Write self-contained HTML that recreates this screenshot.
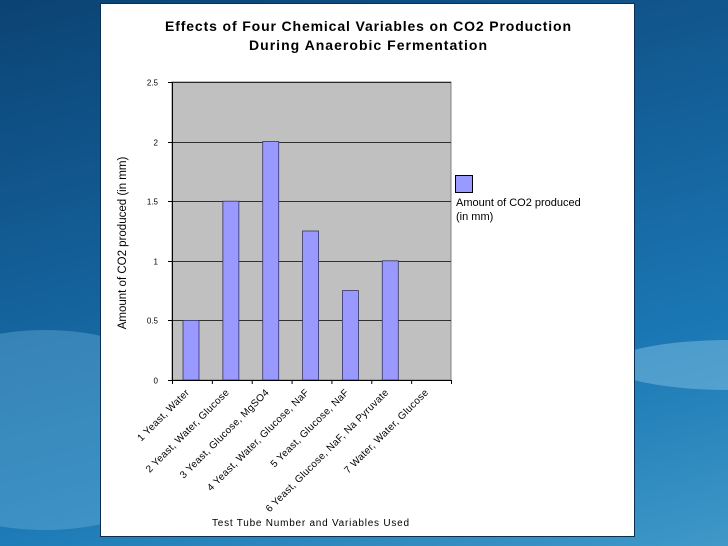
<!DOCTYPE html>
<html><head><meta charset="utf-8"><style>
html,body{margin:0;padding:0;width:728px;height:546px;overflow:hidden}
#wrap{position:absolute;left:0;top:0;width:728px;height:546px;overflow:hidden;
background:linear-gradient(165deg,#0b4373 0%,#14609a 40%,#1b78b4 70%,#3f98c8 100%);font-family:"Liberation Sans",Arial,sans-serif}
.swoosh{position:absolute;border-radius:50%}
</style></head><body>
<div id="wrap">
<div class="swoosh" style="left:-120px;top:330px;width:330px;height:200px;background:rgba(120,190,225,0.35)"></div>
<div class="swoosh" style="left:610px;top:340px;width:240px;height:50px;background:rgba(140,200,230,0.45)"></div>
<svg width="728" height="546" style="position:absolute;left:0;top:0">
<rect x="100.5" y="3.5" width="534" height="533" fill="#fff" stroke="#0a2f50" stroke-width="1"/>
<text x="165" y="31" textLength="406" lengthAdjust="spacing" font-size="14" font-weight="bold" fill="#000">Effects of Four Chemical Variables on CO2 Production</text>
<text x="249" y="50" textLength="238" lengthAdjust="spacing" font-size="14" font-weight="bold" fill="#000">During Anaerobic Fermentation</text>
<g id="plot"></g>
<text transform="translate(126,243) rotate(-90)" text-anchor="middle" font-size="11.5" fill="#000">Amount of CO2 produced (in mm)</text>
<text x="212" y="526" textLength="197" lengthAdjust="spacing" font-size="10" fill="#000">Test Tube Number and Variables Used</text>
<rect x="455.5" y="175.5" width="17" height="17" fill="#9999ff" stroke="#000"/>
<text x="456" y="206" font-size="11" fill="#000">Amount of CO2 produced</text>
<text x="456" y="220" font-size="11" fill="#000">(in mm)</text>
</svg>
</div>
<script>
const categories=["1 Yeast, Water","2 Yeast, Water, Glucose","3 Yeast, Glucose, MgSO4","4 Yeast, Water, Glucose, NaF","5 Yeast, Glucose, NaF","6 Yeast, Glucose, NaF, Na Pyruvate","7 Water, Water, Glucose"];
const values=[0.5,1.5,2.0,1.25,0.75,1.0,0];
const yTicks=[0,0.5,1,1.5,2,2.5];
const yTickLabels=["0","0.5","1","1.5","2","2.5"];
const NS="http://www.w3.org/2000/svg";
const g=document.getElementById('plot');
const L=172,R=451,T=82,B=380,yMax=2.5;
const y=v=>B-(v/yMax)*(B-T);
const bw=(R-L)/categories.length;
const x=i=>L+i*bw;
function mk(t,a){const e=document.createElementNS(NS,t);for(const k in a)e.setAttribute(k,a[k]);g.appendChild(e);return e;}
let bg=mk('rect',{x:L,y:T,width:R-L,height:B-T,fill:'#c0c0c0',stroke:'#808080'});


yTicks.forEach((t,i)=>{
  const yy=Math.round(y(t))+0.5;
  if(t>0){const gl=mk('line',{x1:L,x2:R,y1:yy,y2:yy,stroke:'#000','stroke-width':0.8});
  
  }
  const tk=mk('line',{x1:L-4,x2:L,y1:yy,y2:yy,stroke:'#000'});
  
  
  const lb=mk('text',{x:L-14,y:yy+3,'text-anchor':'end','font-size':8,fill:'#000'});
  lb.textContent=yTickLabels[i];
  
  
});
values.forEach((v,i)=>{
  if(v>0){const b=mk('rect',{x:x(i)+11,y:y(v),width:16,height:B-y(v),fill:'#9999ff',stroke:'#333366','stroke-width':0.8});
  
  }
});
const ax=mk('line',{x1:L,x2:R,y1:B+0.5,y2:B+0.5,stroke:'#000'});


const ay=mk('line',{x1:L+0.5,x2:L+0.5,y1:T,y2:B,stroke:'#000'});


for(let i=0;i<=categories.length;i++){
  const tk=mk('line',{x1:x(i)+0.5,x2:x(i)+0.5,y1:B,y2:B+4,stroke:'#000'});
  
  
}
categories.forEach((c,i)=>{
  const cx=x(i)+bw/2-2,cy=B+13;
  const t=mk('text',{x:cx,y:cy,'text-anchor':'end','font-size':10,'letter-spacing':0.3,fill:'#000',transform:`rotate(-45 ${cx} ${cy})`});
  t.textContent=c;
  
  
});
</script>
</body></html>
